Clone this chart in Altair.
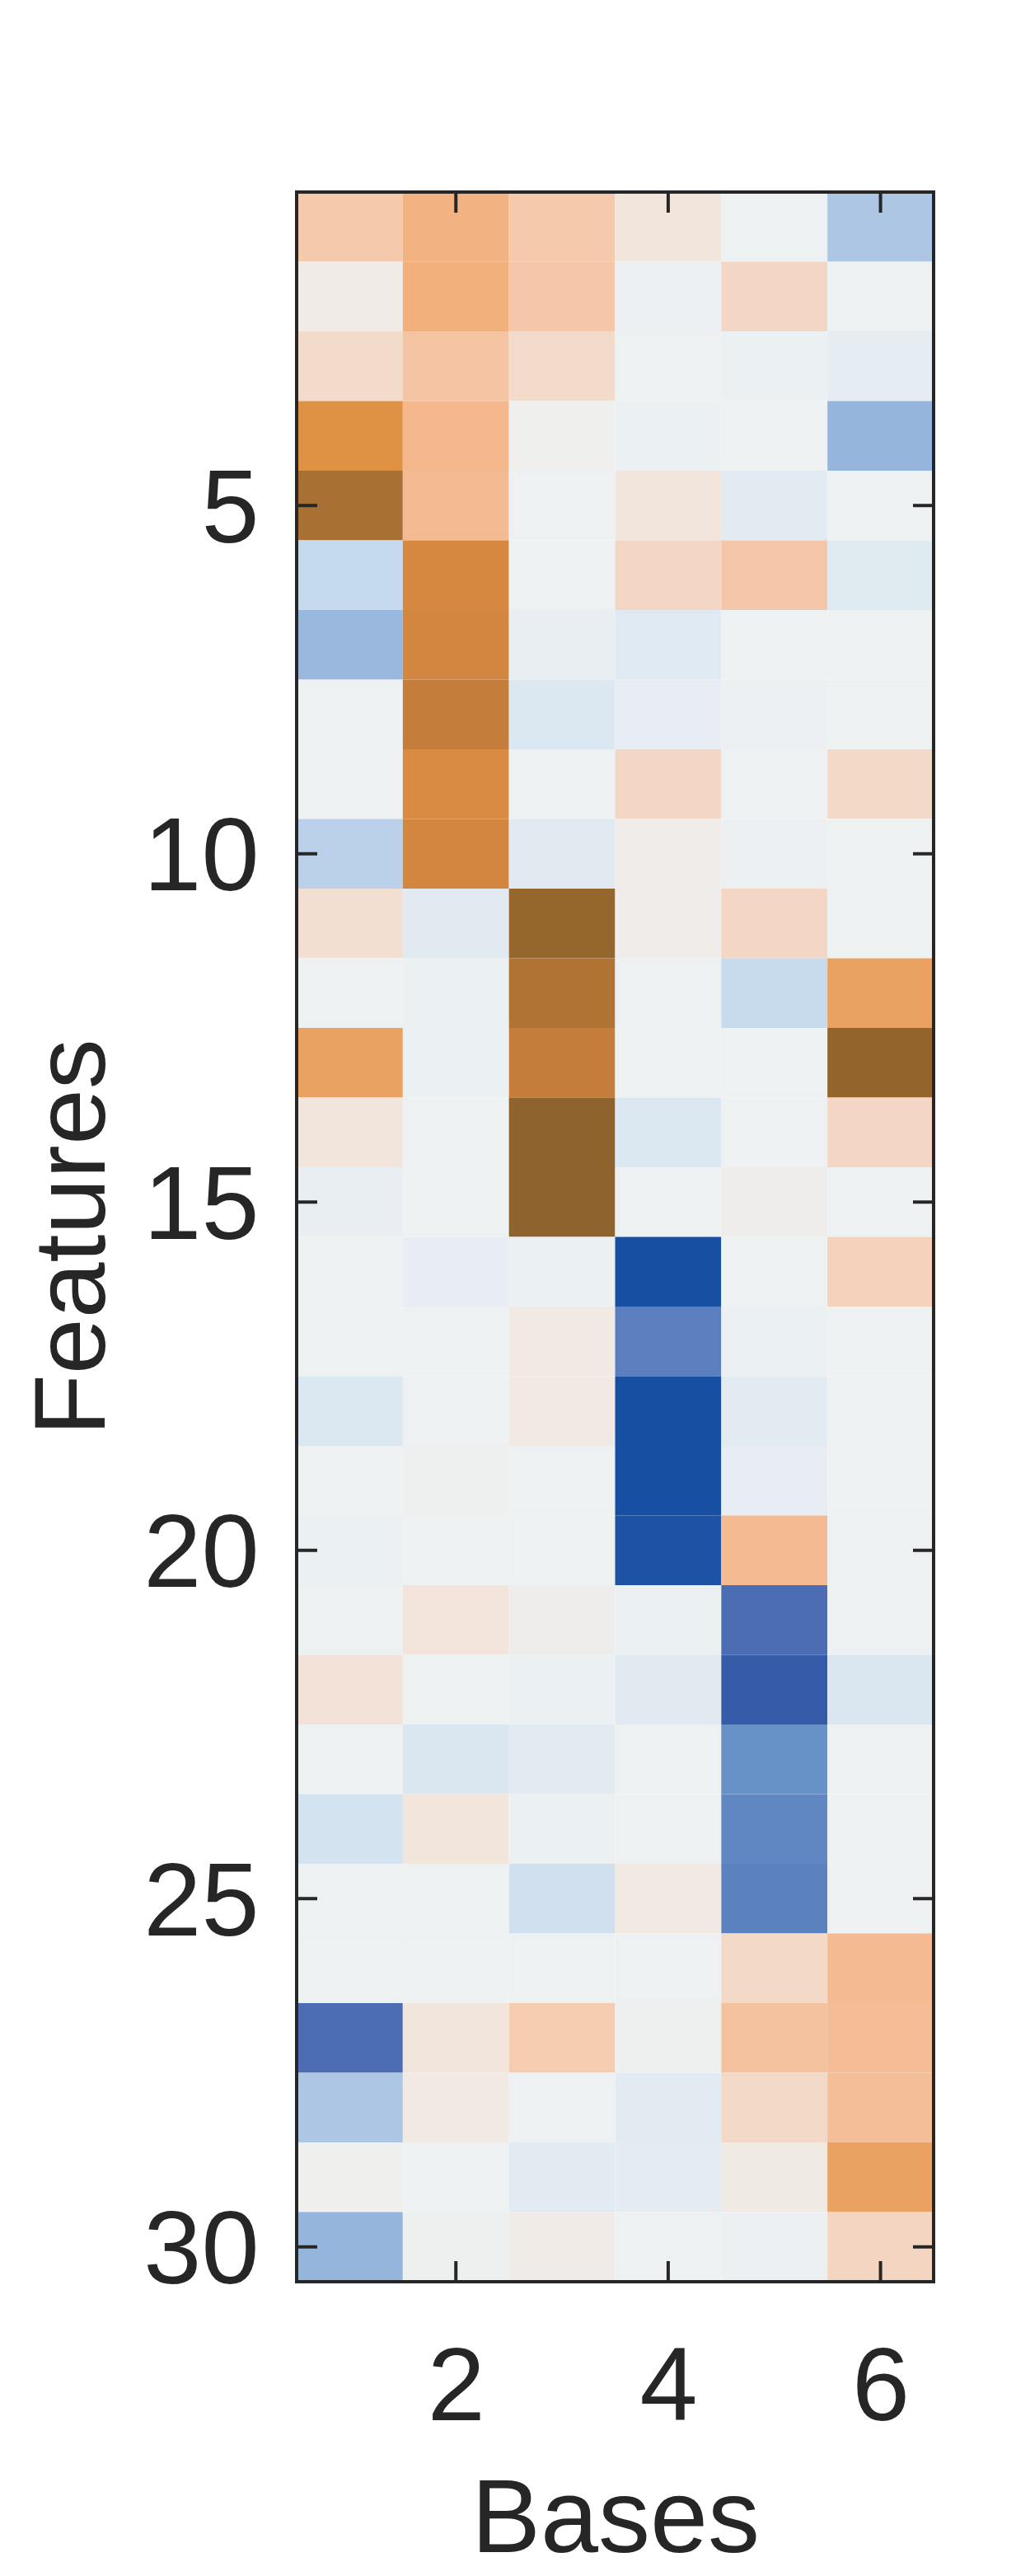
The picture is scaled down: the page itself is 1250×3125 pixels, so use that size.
import altair as alt
import pandas as pd

# Heatmap values: rows are Features 1..30, one list per Base (column 1..6)
base_1 = [0.30, 0.05, 0.17, 0.60, 0.90, -0.25, -0.43, 0.00, 0.00, -0.30,
          0.14, 0.00, 0.52, 0.10, -0.04, 0.00, 0.00, -0.12, 0.00, -0.02,
          0.00, 0.12, 0.00, -0.17, 0.00, 0.00, -0.80, -0.35, 0.02, -0.45]
base_2 = [0.42, 0.43, 0.33, 0.40, 0.38, 0.68, 0.70, 0.78, 0.66, 0.70,
          -0.09, -0.02, -0.02, 0.00, 0.00, -0.05, 0.00, 0.00, 0.01, 0.00,
          0.11, 0.00, -0.13, 0.10, 0.00, 0.00, 0.10, 0.07, 0.00, 0.01]
base_3 = [0.30, 0.31, 0.17, 0.02, 0.00, 0.00, -0.04, -0.12, 0.00, -0.09,
          0.96, 0.85, 0.78, 1.00, 1.00, -0.02, 0.07, 0.07, 0.00, 0.00,
          0.03, -0.02, -0.08, -0.02, -0.19, 0.00, 0.28, 0.00, -0.08, 0.05]
base_4 = [0.10, -0.01, 0.00, -0.02, 0.10, 0.20, -0.11, -0.05, 0.20, 0.04,
          0.04, 0.00, 0.00, -0.12, 0.00, -1.00, -0.70, -1.00, -1.00, -0.98,
          -0.02, -0.09, 0.00, 0.00, 0.07, 0.00, 0.01, -0.08, -0.07, 0.00]
base_5 = [0.00, 0.20, -0.02, 0.00, -0.08, 0.31, 0.00, -0.01, 0.00, -0.01,
          0.20, -0.24, 0.00, 0.00, 0.03, 0.00, -0.02, -0.08, -0.05, 0.38,
          -0.80, -0.90, -0.60, -0.66, -0.69, 0.18, 0.34, 0.18, 0.06, -0.01]
base_6 = [-0.35, 0.00, -0.06, -0.45, 0.00, -0.10, 0.00, 0.00, 0.18, 0.00,
          0.00, 0.52, 0.98, 0.20, 0.00, 0.23, 0.00, 0.00, 0.00, 0.00,
          0.00, -0.13, 0.00, 0.00, 0.00, 0.38, 0.37, 0.36, 0.52, 0.21]

bases = [base_1, base_2, base_3, base_4, base_5, base_6]
x_ticks = [2, 4, 6]
y_ticks = [5, 10, 15, 20, 25, 30]

# Diverging colormap stops (blue -> near-white -> orange -> brown)
cmap_domain = [-1.0, -0.9, -0.8, -0.7, -0.6, -0.45, -0.35, -0.25, -0.12, 0.0,
               0.1, 0.2, 0.3, 0.4, 0.45, 0.52, 0.6, 0.7, 0.78, 0.85, 0.9, 0.96, 1.0]
cmap_range = ["#1750a3", "#365ba8", "#4c6db4", "#5b7fbe", "#6792c7", "#95b5dc",
              "#acc6e3", "#c5daed", "#dce8f1", "#eef1f2",
              "#f2e5dc", "#f3d6c3", "#f5c9ab", "#f4b88c", "#f0aa72", "#e9a261",
              "#e09244", "#d3863f", "#c47d3a", "#b07334", "#a87033", "#96672d", "#8f632d"]

rows = []
for ci, col in enumerate(bases, start=1):
    for ri, v in enumerate(col, start=1):
        rows.append({"base": ci, "feature": ri, "value": v})
df = pd.DataFrame(rows)

W, H = 773, 2535
TICK = 25
FONT = "Liberation Sans"
INK = "#262626"

xscale = alt.Scale(domain=[0.5, 6.5], nice=False, zero=False)
yscale = alt.Scale(domain=[0.5, 30.5], nice=False, zero=False, reverse=True)

xaxis = alt.Axis(values=x_ticks, title="Bases", ticks=False, domain=False, grid=False,
                 labelFontSize=126, labelFont=FONT, labelColor=INK,
                 labelBaseline="alphabetic", labelPadding=167, labelAlign="center",
                 titleFontSize=126, titleFont=FONT, titleColor=INK,
                 titleFontWeight="normal", titleBaseline="alphabetic", titleY=327)
yaxis = alt.Axis(values=y_ticks, title="Features", ticks=False, domain=False, grid=False,
                 labelFontSize=126, labelFont=FONT, labelColor=INK,
                 labelBaseline="middle", labelPadding=46, labelOffset=6,
                 titleFontSize=122, titleFont=FONT, titleColor=INK,
                 titleFontWeight="normal", titleAngle=-90,
                 titleBaseline="alphabetic", titleX=-234)

heat = alt.Chart(df).transform_calculate(
    x0="datum.base - 0.5", x1="datum.base + 0.5",
    y0="datum.feature - 0.5", y1="datum.feature + 0.5",
).mark_rect().encode(
    x=alt.X("x0:Q", scale=xscale, axis=xaxis, title="Bases"),
    x2="x1:Q",
    y=alt.Y("y0:Q", scale=yscale, axis=yaxis, title="Features"),
    y2="y1:Q",
    color=alt.Color("value:Q", legend=None,
                    scale=alt.Scale(domain=cmap_domain, range=cmap_range, interpolate="rgb")),
)

ydf = pd.DataFrame({"t": y_ticks})
xdf = pd.DataFrame({"t": x_ticks})

left_ticks = alt.Chart(ydf).mark_rule(color=INK, strokeWidth=4).encode(
    y=alt.Y("t:Q", scale=yscale, axis=yaxis, title="Features"), x=alt.value(0), x2=alt.value(TICK))
right_ticks = alt.Chart(ydf).mark_rule(color=INK, strokeWidth=4).encode(
    y=alt.Y("t:Q", scale=yscale, axis=yaxis, title="Features"), x=alt.value(W - TICK), x2=alt.value(W))
top_ticks = alt.Chart(xdf).mark_rule(color=INK, strokeWidth=4).encode(
    x=alt.X("t:Q", scale=xscale, axis=xaxis, title="Bases"), y=alt.value(0), y2=alt.value(TICK))
bottom_ticks = alt.Chart(xdf).mark_rule(color=INK, strokeWidth=4).encode(
    x=alt.X("t:Q", scale=xscale, axis=xaxis, title="Bases"), y=alt.value(H - TICK), y2=alt.value(H))

frame = alt.Chart(pd.DataFrame({"k": [0]})).mark_rect(
    fillOpacity=0, stroke=INK, strokeWidth=4
).encode(x=alt.value(0), x2=alt.value(W), y=alt.value(0), y2=alt.value(H))

chart = alt.layer(heat, left_ticks, right_ticks, top_ticks, bottom_ticks, frame).properties(
    width=W, height=H,
    autosize=alt.AutoSizeParams(type="none"),
    padding={"left": 352, "top": 225, "right": 109, "bottom": 365},
    background="white",
).configure_view(stroke=INK, strokeWidth=4)

chart.save("out.html", embed_options={"renderer": "svg", "actions": False})
